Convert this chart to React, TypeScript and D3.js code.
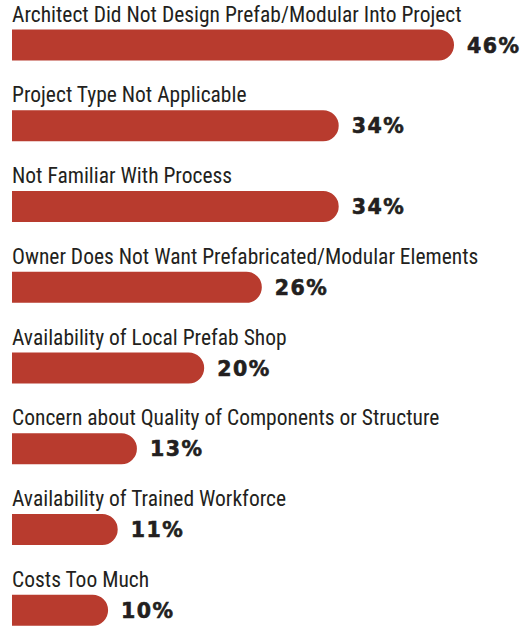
import {useEffect, useRef} from "react";
import * as d3 from "d3";

const categories: string[] = [
    "Architect Did Not Design Prefab/Modular Into Project",
    "Project Type Not Applicable",
    "Not Familiar With Process",
    "Owner Does Not Want Prefabricated/Modular Elements",
    "Availability of Local Prefab Shop",
    "Concern about Quality of Components or Structure",
    "Availability of Trained Workforce",
    "Costs Too Much",
];
const values: number[] = [46, 34, 34, 26, 20, 13, 11, 10];

const WIDTH = 527;
const HEIGHT = 626;

const App = () => {
    const svgRef = useRef<SVGSVGElement | null>(null);

    useEffect(() => {
        const svg = d3.select(svgRef.current);
        svg.selectAll("*").remove();

        const x = d3.scaleLinear().domain([0, 46]).range([12, 454]);
        const y = d3.scaleBand<string>()
            .domain(categories)
            .range([0, 80.75 * categories.length])
            .padding(0);

        const barH = 31;
        const barTop = 29.5; // offset of bar inside each row
        const rows = svg.selectAll("g.row")
            .data(categories.map((c, i) => ({label: c, value: values[i]})))
            .enter()
            .append("g")
            .attr("class", "row")
            .attr("transform", d => `translate(0,${y(d.label)})`);

        // category label above the bar
        rows.append("text")
            .attr("x", 12)
            .attr("y", barTop - 8)
            .attr("fill", "#231f20")
            .style("font-family", "'Liberation Sans Narrow', 'Roboto Condensed', Roboto, sans-serif")
            .style("font-size", "21.5px")
            .text(d => d.label);

        // bar with rounded right end
        rows.append("path")
            .attr("fill", "#b83b2e")
            .attr("d", d => {
                const x0 = x(0), x1 = x(d.value), r = barH / 2;
                const p = d3.path();
                p.moveTo(x0, barTop);
                p.lineTo(x1 - r, barTop);
                p.arc(x1 - r, barTop + r, r, -Math.PI / 2, Math.PI / 2);
                p.lineTo(x0, barTop + barH);
                p.closePath();
                return p.toString();
            });

        // value label
        rows.append("text")
            .attr("x", d => x(d.value) + 13)
            .attr("y", barTop + barH / 2 + 7.5)
            .attr("fill", "#231f20")
            .attr("stroke", "#231f20")
            .attr("stroke-width", 0.6)
            .style("font-family", "'DejaVu Sans', sans-serif")
            .style("font-weight", "bold")
            .style("font-size", "20.5px")
            .style("letter-spacing", "1.5px")
            .text(d => `${d.value}%`);
    }, []);

    return (
        <svg ref={svgRef} width={WIDTH} height={HEIGHT}
             style={{position: "absolute", left: 0, top: 0, background: "#fff"}}/>
    );
};

export default App;
